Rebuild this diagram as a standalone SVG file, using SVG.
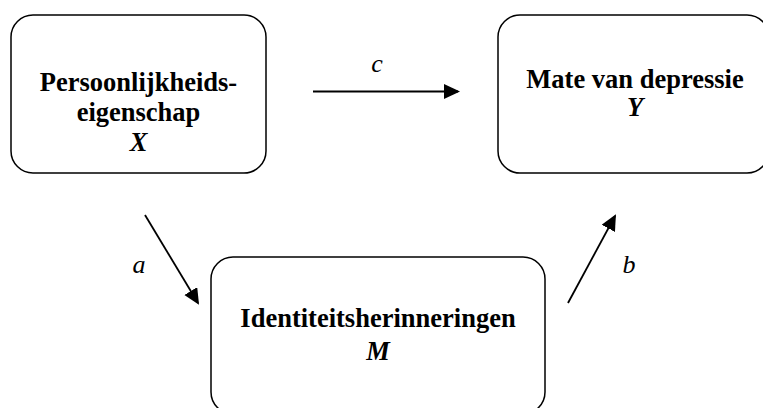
<svg xmlns="http://www.w3.org/2000/svg" width="763" height="408" viewBox="0 0 763 408">
  <defs>
    <style>
      .box { fill: #ffffff; stroke: #000000; stroke-width: 1.5; }
      text { font-family: 'Liberation Serif', 'Tinos', 'DejaVu Serif', serif; fill: #000000; text-anchor: middle; }
      .lbl { font-weight: bold; font-size: 26.5px; }
      .var { font-weight: bold; font-style: italic; font-size: 26.5px; }
      .path { font-style: italic; font-size: 26px; }
      .conn { stroke: #000000; stroke-width: 1.8; fill: none; marker-end: url(#arrow); }
    </style>
    <marker id="arrow" markerUnits="userSpaceOnUse" markerWidth="16" markerHeight="16" viewBox="0 0 16 16" refX="14" refY="7.5" orient="auto">
      <path d="M0,0 L16,7.5 L0,15 z" fill="#000000"/>
    </marker>
  </defs>
  <rect width="763" height="408" fill="#ffffff"/>

  <g id="node-X" font-family="Liberation Serif, serif">
    <rect class="box" x="11" y="15" width="255" height="158" rx="22" ry="22"/>
    <text class="lbl" x="138.5" y="91">Persoonlijkheids-</text>
    <text class="lbl" x="138.5" y="121">eigenschap</text>
    <text class="var" x="138.5" y="151">X</text>
  </g>

  <g id="node-Y" font-family="Liberation Serif, serif">
    <rect class="box" x="498" y="15" width="271" height="158" rx="22" ry="22"/>
    <text class="lbl" x="635" y="88">Mate van depressie</text>
    <text class="var" x="635" y="116">Y</text>
  </g>

  <g id="node-M" font-family="Liberation Serif, serif">
    <rect class="box" x="211" y="257" width="334" height="157" rx="22" ry="22"/>
    <text class="lbl" x="378" y="327">Identiteitsherinneringen</text>
    <text class="var" x="378" y="360">M</text>
  </g>

  <g id="connectors" font-family="Liberation Serif, serif">
    <line class="conn" x1="313" y1="91.5" x2="458" y2="91.5"/>
    <line class="conn" x1="145" y1="215" x2="198" y2="303"/>
    <line class="conn" x1="568" y1="303" x2="615" y2="216"/>
    <text class="path" x="377" y="72">c</text>
    <text class="path" x="139" y="273">a</text>
    <text class="path" x="629" y="273">b</text>
  </g>
</svg>
